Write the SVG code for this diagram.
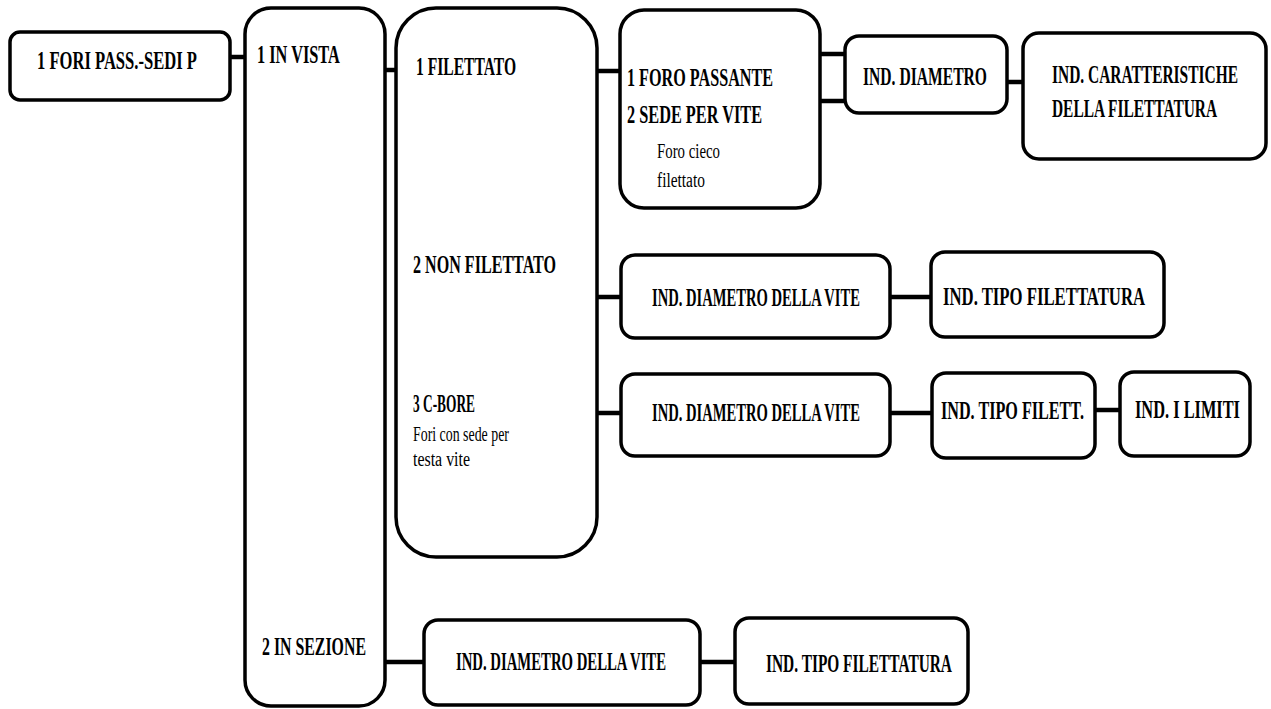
<svg xmlns="http://www.w3.org/2000/svg" width="1271" height="709" viewBox="0 0 1271 709">
<style>
.box{fill:#fff;stroke:#000;stroke-width:3.5}
.con line{stroke:#000;stroke-width:4.5}
.t{font-family:"Liberation Serif","Times New Roman",serif;font-weight:bold;font-size:25px;fill:#000}
.s{font-family:"Liberation Serif","Times New Roman",serif;font-weight:normal;font-size:20px;fill:#000}
</style>
<rect width="1271" height="709" fill="#fff"/>
<g id="connectors" class="con">
<line x1="229" y1="57" x2="246" y2="57"/>
<line x1="384" y1="70" x2="397" y2="70"/>
<line x1="596" y1="71" x2="621" y2="71"/>
<line x1="819" y1="54" x2="846" y2="54"/>
<line x1="819" y1="101" x2="846" y2="101"/>
<line x1="1006" y1="82" x2="1024" y2="82"/>
<line x1="596" y1="297" x2="622" y2="297"/>
<line x1="889" y1="297" x2="932" y2="297"/>
<line x1="596" y1="413" x2="622" y2="413"/>
<line x1="889" y1="413" x2="933" y2="413"/>
<line x1="1094" y1="410" x2="1121" y2="410"/>
<line x1="384" y1="662" x2="425" y2="662"/>
<line x1="699" y1="662" x2="736" y2="662"/>
</g>
<g id="n-fori">
<rect class="box" x="10" y="32" width="220" height="68" rx="10"/>
<text class="t" transform="translate(37,69) scale(0.658,1)" textLength="243" lengthAdjust="spacingAndGlyphs">1 FORI PASS.-SEDI P</text>
</g>
<g id="n-vista">
<rect class="box" x="245" y="8" width="140" height="698" rx="26"/>
<text class="t" transform="translate(257,63) scale(0.642,1)" textLength="129" lengthAdjust="spacingAndGlyphs">1 IN VISTA</text>
<text class="t" transform="translate(262,655) scale(0.634,1)" textLength="164" lengthAdjust="spacingAndGlyphs">2 IN SEZIONE</text>
</g>
<g id="n-filettato">
<rect class="box" x="396" y="8" width="201" height="549" rx="40"/>
<text class="t" transform="translate(416,75) scale(0.61,1)" textLength="164" lengthAdjust="spacingAndGlyphs">1 FILETTATO</text>
<text class="t" transform="translate(413,273) scale(0.634,1)" textLength="225.6" lengthAdjust="spacingAndGlyphs">2 NON FILETTATO</text>
<text class="t" font-size="22" transform="translate(413,412) scale(0.61,1)" textLength="101.6" lengthAdjust="spacingAndGlyphs">3 C-BORE</text>
<text class="s" transform="translate(413,441) scale(0.694,1)" textLength="138.3" lengthAdjust="spacingAndGlyphs">Fori con sede per</text>
<text class="s" transform="translate(413,466) scale(0.795,1)" textLength="71.7" lengthAdjust="spacingAndGlyphs">testa vite</text>
</g>
<g id="n-foro">
<rect class="box" x="620" y="10" width="200" height="198" rx="24"/>
<text class="t" transform="translate(627,86) scale(0.641,1)" textLength="227.8" lengthAdjust="spacingAndGlyphs">1 FORO PASSANTE</text>
<text class="t" transform="translate(627,123) scale(0.65,1)" textLength="207.7" lengthAdjust="spacingAndGlyphs">2 SEDE PER VITE</text>
<text class="s" transform="translate(657,158) scale(0.74,1)" textLength="85.1" lengthAdjust="spacingAndGlyphs">Foro cieco</text>
<text class="s" transform="translate(657,187) scale(0.77,1)" textLength="62.3" lengthAdjust="spacingAndGlyphs">filettato</text>
</g>
<g id="n-diametro">
<rect class="box" x="845" y="36" width="162" height="77" rx="14"/>
<text class="t" transform="translate(863,85) scale(0.624,1)" textLength="198.7" lengthAdjust="spacingAndGlyphs">IND. DIAMETRO</text>
</g>
<g id="n-caratteristiche">
<rect class="box" x="1023" y="33" width="243" height="126" rx="16"/>
<text class="t" transform="translate(1052,83) scale(0.614,1)" textLength="302.9" lengthAdjust="spacingAndGlyphs">IND. CARATTERISTICHE</text>
<text class="t" transform="translate(1052,117) scale(0.604,1)" textLength="273.2" lengthAdjust="spacingAndGlyphs">DELLA FILETTATURA</text>
</g>
<g id="n-r2-diam">
<rect class="box" x="621" y="255" width="269" height="83" rx="14"/>
<text class="t" transform="translate(652,306) scale(0.58,1)" textLength="358.6" lengthAdjust="spacingAndGlyphs">IND. DIAMETRO DELLA VITE</text>
</g>
<g id="n-r2-tipo">
<rect class="box" x="931" y="252" width="233" height="85" rx="14"/>
<text class="t" transform="translate(943,305) scale(0.66,1)" textLength="306.1" lengthAdjust="spacingAndGlyphs">IND. TIPO FILETTATURA</text>
</g>
<g id="n-r3-diam">
<rect class="box" x="621" y="374" width="269" height="82" rx="14"/>
<text class="t" transform="translate(652,421) scale(0.58,1)" textLength="358.6" lengthAdjust="spacingAndGlyphs">IND. DIAMETRO DELLA VITE</text>
</g>
<g id="n-r3-tipo">
<rect class="box" x="932" y="373" width="163" height="85" rx="14"/>
<text class="t" transform="translate(941,419) scale(0.64,1)" textLength="223.4" lengthAdjust="spacingAndGlyphs">IND. TIPO FILETT.</text>
</g>
<g id="n-r3-limiti">
<rect class="box" x="1120" y="372" width="130" height="84" rx="14"/>
<text class="t" transform="translate(1135,418) scale(0.655,1)" textLength="160.3" lengthAdjust="spacingAndGlyphs">IND. I LIMITI</text>
</g>
<g id="n-r4-diam">
<rect class="box" x="424" y="620" width="276" height="85" rx="14"/>
<text class="t" transform="translate(456,670) scale(0.586,1)" textLength="358.4" lengthAdjust="spacingAndGlyphs">IND. DIAMETRO DELLA VITE</text>
</g>
<g id="n-r4-tipo">
<rect class="box" x="735" y="618" width="233" height="86" rx="14"/>
<text class="t" transform="translate(766,672) scale(0.607,1)" textLength="306.4" lengthAdjust="spacingAndGlyphs">IND. TIPO FILETTATURA</text>
</g>
</svg>
